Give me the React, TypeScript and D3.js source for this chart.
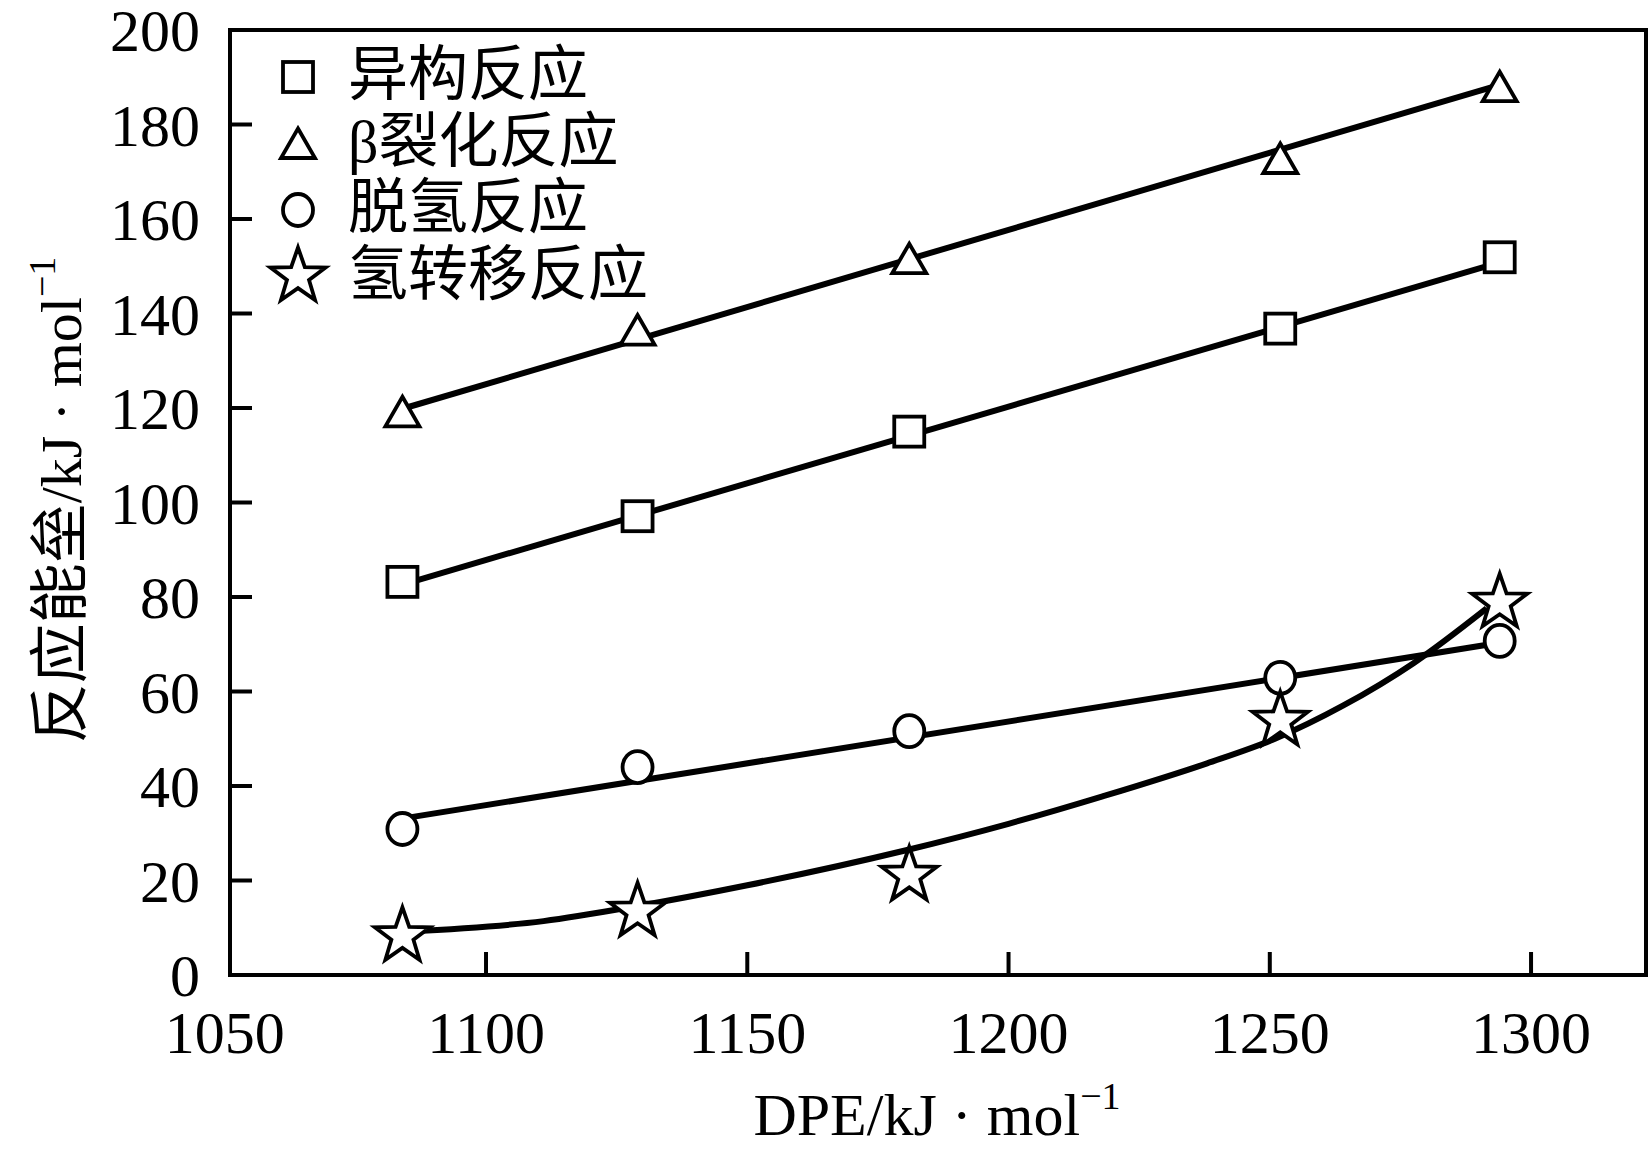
import * as d3 from 'd3';

// DPE (kJ/mol) of the five sites
const dpe = [1084, 1129, 1181, 1252, 1294];

// reaction barriers (kJ/mol)
const isomerization = [83.2, 97.1, 115.0, 136.8, 151.9];
const betaScission = [119.2, 136.5, 151.6, 172.8, 188.0];
const dehydrogenation = [30.9, 44.0, 51.6, 62.9, 70.7];
const hydrogenTransfer = [8.2, 13.4, 21.0, 53.8, 78.8];

// fitted curves: [DPE, barrier]
const isomerizationFit: [number, number][] = [[1084.5, 82.8], [1294, 150.8]];
const betaScissionFit: [number, number][] = [[1084.5, 120.0], [1294, 188.4]];
const dehydrogenationFit: [number, number][] = [[1084.5, 33.2], [1294, 70.3]];
const hydrogenTransferFit: [number, number][] = [
  [1085, 9.2], [1111, 11.4], [1129, 14.6], [1150, 19.0], [1180, 26.3],
  [1200, 32.0], [1218, 37.8], [1238, 44.8], [1251, 50.0], [1264, 57.0],
  [1277.5, 66.0], [1291.5, 77.6]
];

const xTicks = [1050, 1100, 1150, 1200, 1250, 1300];
const yTicks = [0, 20, 40, 60, 80, 100, 120, 140, 160, 180, 200];
const legendLabels = ['异构反应', 'β裂化反应', '脱氢反应', '氢转移反应'];

const W = 1650;
const H = 1157;
const serif = '"Liberation Serif", "Times New Roman", serif';
const cjk = '"Liberation Serif", "Noto Sans CJK SC", sans-serif';

type MarkerKind = 'square' | 'triangle' | 'circle' | 'star';

function starPath(R: number, r: number) {
  const pts: string[] = [];
  for (let i = 0; i < 10; i++) {
    const a = -Math.PI / 2 + (i * Math.PI) / 5;
    const rad = i % 2 === 0 ? R : r;
    pts.push(`${(rad * Math.cos(a)).toFixed(2)},${(rad * Math.sin(a)).toFixed(2)}`);
  }
  return `M${pts.join('L')}Z`;
}

function Marker({ kind, x, y }: { kind: MarkerKind; x: number; y: number }) {
  const common = { fill: '#fff', stroke: '#000', strokeWidth: 3.8 };
  if (kind === 'square') {
    return <rect x={x - 15} y={y - 15} width={30} height={30} {...common} />;
  }
  if (kind === 'triangle') {
    return <path d="M0,-15L17,14.5L-17,14.5Z" transform={`translate(${x},${y})`} {...common} strokeLinejoin="miter" />;
  }
  if (kind === 'circle') {
    return <ellipse cx={x} cy={y} rx={15} ry={16} {...common} />;
  }
  return <path d={starPath(29, 11.6)} transform={`translate(${x},${y})`} {...common} strokeLinejoin="miter" />;
}

export default function App() {
  const margin = { left: 230, right: 1646, top: 30, bottom: 975 };

  const x = d3.scaleLinear().domain([1051, 1322]).range([margin.left, margin.right]);
  const y = d3.scaleLinear().domain([0, 200]).range([margin.bottom, margin.top]);

  const straight = d3.line<[number, number]>()
    .x(d => x(d[0]))
    .y(d => y(d[1]));

  const smooth = d3.line<[number, number]>()
    .x(d => x(d[0]))
    .y(d => y(d[1]))
    .curve(d3.curveMonotoneX);

  const series: { kind: MarkerKind; values: number[] }[] = [
    { kind: 'square', values: isomerization },
    { kind: 'triangle', values: betaScission },
    { kind: 'circle', values: dehydrogenation },
    { kind: 'star', values: hydrogenTransfer }
  ];

  const fits = [
    { d: straight(isomerizationFit) },
    { d: straight(betaScissionFit) },
    { d: straight(dehydrogenationFit) },
    { d: smooth(hydrogenTransferFit) }
  ];

  return (
    <div style={{ position: 'absolute', left: 0, top: 0, background: '#fff' }}>
      <svg width={W} height={H} viewBox={`0 0 ${W} ${H}`} style={{ display: 'block' }}>
        <rect width={W} height={H} fill="#fff" />

        {/* frame */}
        <rect
          x={margin.left}
          y={margin.top}
          width={margin.right - margin.left}
          height={margin.bottom - margin.top}
          fill="none"
          stroke="#000"
          strokeWidth={4}
        />

        {/* y ticks */}
        {yTicks.map(t => (
          <g key={`y${t}`}>
            <line x1={margin.left} x2={margin.left + 22} y1={y(t)} y2={y(t)} stroke="#000" strokeWidth={4} />
            <text x={200} y={y(t) + 21} textAnchor="end" fontFamily={serif} fontSize={60}>{t}</text>
          </g>
        ))}

        {/* x ticks */}
        {xTicks.map(t => (
          <g key={`x${t}`}>
            {t > 1051 && (
              <line x1={x(t)} x2={x(t)} y1={margin.bottom} y2={margin.bottom - 23} stroke="#000" strokeWidth={4} />
            )}
            <text x={x(t)} y={1053} textAnchor="middle" fontFamily={serif} fontSize={60}>{t}</text>
          </g>
        ))}

        {/* fitted lines */}
        {fits.map((f, i) => (
          <path key={`fit${i}`} d={f.d || ''} fill="none" stroke="#000" strokeWidth={6} />
        ))}

        {/* points */}
        {series.map(s =>
          s.values.map((v, i) => (
            <Marker key={`${s.kind}${i}`} kind={s.kind} x={x(dpe[i])} y={y(v)} />
          ))
        )}

        {/* legend */}
        {series.map((s, i) => (
          <g key={`leg${i}`}>
            <Marker kind={s.kind} x={298} y={77 + i * 66.5} />
            <text x={348} y={95 + i * 66.5} fontFamily={cjk} fontSize={60}>{legendLabels[i]}</text>
          </g>
        ))}

        {/* axis titles */}
        <text x={937} y={1135} textAnchor="middle" fontFamily={serif} fontSize={60}>
          DPE/kJ · mol
          <tspan fontSize={38} dy={-26}>−1</tspan>
        </text>

        <text
          transform="translate(81,500) rotate(-90)"
          textAnchor="middle"
          fontFamily={cjk}
          fontSize={58}
        >
          <tspan fontFamily='"Noto Sans CJK SC", sans-serif' fontSize={60}>反应能垒</tspan>
          <tspan fontFamily={serif}>/kJ · mol</tspan>
          <tspan fontFamily={serif} fontSize={38} dy={-26}>−1</tspan>
        </text>
      </svg>
    </div>
  );
}
